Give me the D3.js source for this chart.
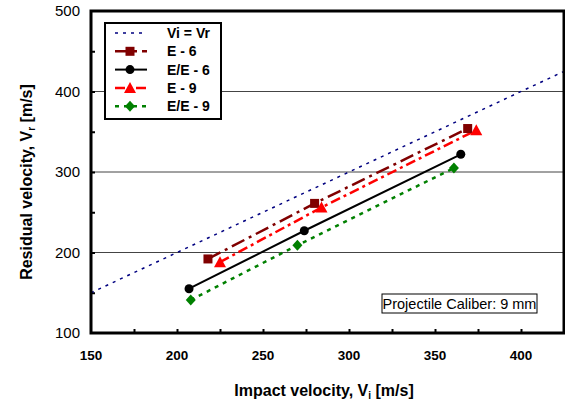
<!DOCTYPE html>
<html>
<head>
<meta charset="utf-8">
<script src="https://cdn.jsdelivr.net/npm/d3@7/dist/d3.min.js"></script>
<style>
  body { margin: 0; background: #fff; }
  svg { display: block; font-family: "Liberation Sans", Arial, sans-serif; }
</style>
</head>
<body>
<svg id="chart" width="565" height="405"></svg>
<script>
// values
var xTicks = [150, 200, 250, 300, 350, 400];
var yTicks = [100, 200, 300, 400, 500];
var refLine = [[150, 150], [425, 425]];
var e6 = [[218, 192], [280, 261], [369, 354]];
var ee6 = [[207, 155], [274, 227], [365, 322]];
var e9 = [[225, 188], [284, 256], [374, 352]];
var ee9 = [[208, 141], [270, 209], [361, 305]];

var seriesList = [
  { name: "Vi = Vr", data: refLine, color: "#000080", dash: "3,5", width: 1.5, marker: null },
  { name: "E - 6", data: e6, color: "#800000", dash: "14,5,3,5", width: 2.5, marker: "square" },
  { name: "E/E - 6", data: ee6, color: "#000000", dash: null, width: 2, marker: "circle" },
  { name: "E - 9", data: e9, color: "#ff0000", dash: "10,4,3,4", width: 2.5, marker: "triangle" },
  { name: "E/E - 9", data: ee9, color: "#008000", dash: "4,5", width: 2.5, marker: "diamond" }
];

var svg = d3.select("#chart");
var pLeft = 91, pRight = 564, pTop = 11, pBottom = 333;

var x = d3.scaleLinear().domain([150, 425]).range([pLeft, pRight]);
var y = d3.scaleLinear().domain([100, 500]).range([pBottom, pTop]);

svg.append("defs").append("clipPath").attr("id", "clip")
  .append("rect").attr("x", pLeft).attr("y", pTop)
  .attr("width", pRight - pLeft).attr("height", pBottom - pTop);

// grid
svg.append("g").selectAll("line")
  .data([200, 300, 400])
  .enter().append("line")
    .attr("x1", pLeft).attr("x2", pRight)
    .attr("y1", function(d) { return y(d); })
    .attr("y2", function(d) { return y(d); })
    .attr("stroke", "#444").attr("stroke-width", 1);

// inner ticks
var xAxis = d3.axisTop(x).tickValues(d3.range(175, 425, 25)).tickSize(4).tickFormat("");
svg.append("g").attr("transform", "translate(0," + pBottom + ")").call(xAxis)
  .call(function(g) { g.select(".domain").remove(); g.selectAll("line").attr("stroke-width", 2); });
var yAxis = d3.axisRight(y).tickValues(d3.range(150, 500, 50)).tickSize(4).tickFormat("");
svg.append("g").attr("transform", "translate(" + pLeft + ",0)").call(yAxis)
  .call(function(g) { g.select(".domain").remove(); g.selectAll("line").attr("stroke-width", 2); });

// tick labels
svg.append("g").selectAll("text")
  .data(yTicks)
  .enter().append("text")
    .attr("x", 80).attr("y", function(d) { return y(d); })
    .attr("dy", "0.36em").attr("text-anchor", "end")
    .attr("font-size", 15).text(function(d) { return d; });

svg.append("g").selectAll("text")
  .data(xTicks)
  .enter().append("text")
    .attr("x", function(d) { return x(d); }).attr("y", 355)
    .attr("dy", "0.36em").attr("text-anchor", "middle")
    .attr("font-size", 13.5).attr("font-weight", "bold").text(function(d) { return d; });

// axis titles
var xt = svg.append("text").attr("x", 324).attr("y", 396)
  .attr("text-anchor", "middle").attr("font-size", 16).attr("font-weight", "bold");
xt.append("tspan").text("Impact velocity, V");
xt.append("tspan").attr("font-size", 10).attr("dy", 3).text("i");
xt.append("tspan").attr("dy", -3).text(" [m/s]");

var yt = svg.append("text").attr("transform", "translate(32,182) rotate(-90)")
  .attr("text-anchor", "middle").attr("font-size", 16).attr("font-weight", "bold");
yt.append("tspan").text("Residual velocity, V");
yt.append("tspan").attr("font-size", 10).attr("dy", 3).text("r");
yt.append("tspan").attr("dy", -3).text(" [m/s]");

// series
var line = d3.line()
  .x(function(d) { return x(d[0]); })
  .y(function(d) { return y(d[1]); });

function drawMarker(g, type, color, cx, cy) {
  if (type === "square") {
    g.append("rect").attr("x", cx - 4.5).attr("y", cy - 4.5).attr("width", 9).attr("height", 9).attr("fill", color);
  } else if (type === "circle") {
    g.append("circle").attr("cx", cx).attr("cy", cy).attr("r", 4.5).attr("fill", color);
  } else if (type === "triangle") {
    g.append("path").attr("d", "M" + cx + "," + (cy - 6) + "L" + (cx + 6) + "," + (cy + 5) + "L" + (cx - 6) + "," + (cy + 5) + "Z").attr("fill", color);
  } else if (type === "diamond") {
    g.append("path").attr("d", "M" + cx + "," + (cy - 5.5) + "L" + (cx + 5) + "," + cy + "L" + cx + "," + (cy + 5.5) + "L" + (cx - 5) + "," + cy + "Z").attr("fill", color);
  }
}

var plot = svg.append("g").attr("clip-path", "url(#clip)");
seriesList.forEach(function(s) {
  plot.append("path")
    .attr("d", line(s.data))
    .attr("fill", "none")
    .attr("stroke", s.color)
    .attr("stroke-width", s.width)
    .attr("stroke-dasharray", s.dash);
});
seriesList.forEach(function(s) {
  if (!s.marker) return;
  s.data.forEach(function(d) { drawMarker(svg, s.marker, s.color, x(d[0]), y(d[1])); });
});

// frame
svg.append("rect").attr("x", pLeft).attr("y", pTop)
  .attr("width", pRight - pLeft).attr("height", pBottom - pTop)
  .attr("fill", "none").attr("stroke", "#000").attr("stroke-width", 3);

// legend
var lg = svg.append("g");
lg.append("rect").attr("x", 105).attr("y", 23).attr("width", 116).attr("height", 96)
  .attr("fill", "#fff").attr("stroke", "#000").attr("stroke-width", 2);
seriesList.forEach(function(s, i) {
  var ly = 33 + i * 18.3;
  lg.append("line").attr("x1", 115).attr("x2", 147).attr("y1", ly).attr("y2", ly)
    .attr("stroke", s.color).attr("stroke-width", s.width).attr("stroke-dasharray", s.dash);
  if (s.marker) drawMarker(lg, s.marker, s.color, 130, ly);
  lg.append("text").attr("x", 167).attr("y", ly).attr("dy", "0.36em")
    .attr("font-size", 14).attr("font-weight", "bold").text(s.name);
});

// annotation
svg.append("rect").attr("x", 382).attr("y", 294).attr("width", 155).attr("height", 19)
  .attr("fill", "#fff").attr("stroke", "#000").attr("stroke-width", 1);
svg.append("text").attr("x", 459.5).attr("y", 303.5).attr("dy", "0.36em")
  .attr("text-anchor", "middle").attr("font-size", 14.5).text("Projectile Caliber: 9 mm");
</script>
</body>
</html>
